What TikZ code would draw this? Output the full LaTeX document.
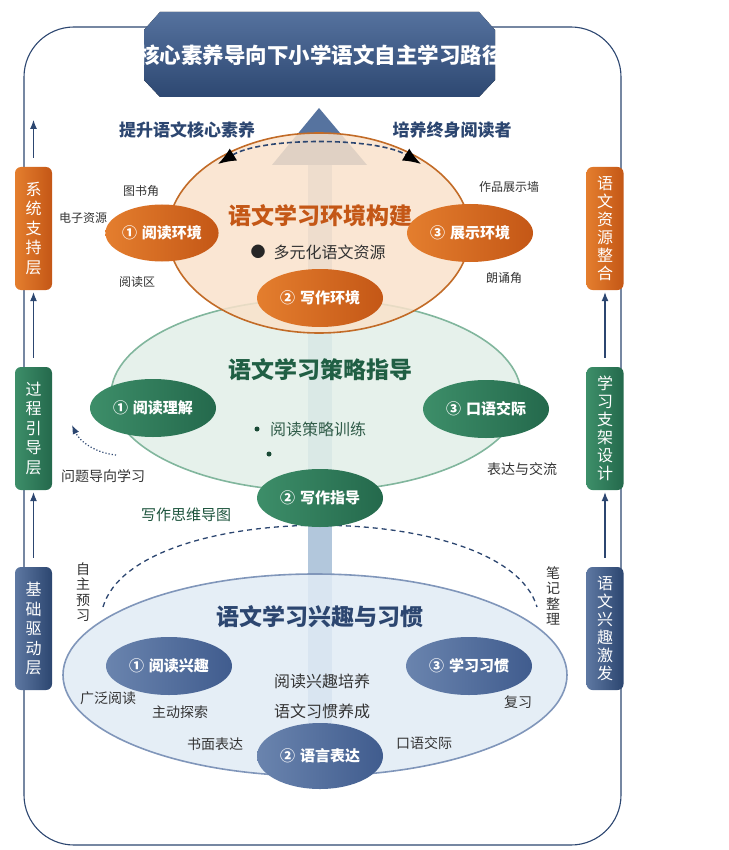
\documentclass[tikz,border=0pt]{standalone}
\usepackage{fontspec}
\setmainfont{Noto Sans CJK SC}
\usetikzlibrary{positioning, arrows.meta, shapes.geometric}

\definecolor{navy}{HTML}{2C4670}
\definecolor{orgA}{HTML}{E47E2E}
\definecolor{orgB}{HTML}{C45716}
\definecolor{grnA}{HTML}{3D8E69}
\definecolor{grnB}{HTML}{24694C}
\definecolor{bluA}{HTML}{6A84AE}
\definecolor{bluB}{HTML}{405C8E}
\definecolor{peach}{HTML}{F9E2CB}
\definecolor{mint}{HTML}{E2EFE8}
\definecolor{frost}{HTML}{E1EBF5}
\definecolor{shaft}{HTML}{B2C7DC}
\definecolor{headblue}{HTML}{56739F}

\newcommand{\num}[2]{#1\hspace{5pt}#2}

\begin{document}
\begin{tikzpicture}[x=1pt, y=-1pt,
  layerbar/.style={rounded corners=6pt, minimum width=37pt, minimum height=123pt,
                   inner sep=0pt, align=center, text=white,
                   font=\fontsize{16}{19.5}\selectfont},
  stage/.style={ellipse, inner sep=0pt, line width=1.6pt, fill opacity=0.85},
  part/.style={ellipse, inner sep=0pt, minimum width=126pt, minimum height=58pt,
               text=white, font=\fontsize{15}{18}\selectfont\bfseries},
  hd/.style={font=\fontsize{23}{26}\selectfont\bfseries},
  body/.style={font=\fontsize{16}{19}\selectfont, text=black!80},
  note/.style={font=\fontsize{12}{14}\selectfont, text=black!80},
  tag/.style={font=\fontsize{14}{16}\selectfont, text=black!80},
  vtag/.style={tag, align=center, font=\fontsize{14}{15.5}\selectfont},
  dot/.style={circle, fill=grnB!70!black, inner sep=0pt, minimum size=5pt},
  uparr/.style={-{Latex[length=9pt, width=7pt]}, line width=1.1pt, draw=navy},
]
\useasboundingbox (0,0) rectangle (728,850);

% outer frame
\draw[navy, line width=1.1pt, rounded corners=50pt] (24,27) rectangle (621,845);

% === Title banner ===
\begin{scope}
  \clip (144,30) -- (160,12) -- (479,12) -- (495,30) -- (495,80) -- (479,97)
        -- (160,97) -- (144,80) -- cycle;
  \fill[top color=headblue, bottom color=navy] (140,10) rectangle (500,100);
  \node[text=white, font=\fontsize{21.5}{24}\selectfont\bfseries] (title) at (321,55)
    {核心素养导向下小学语文自主学习路径};
\end{scope}

% === Side layers ===
\node[layerbar, left color=orgA, right color=orgB] (l1) at (33.5,228.5) {系\\统\\支\\持\\层};
\node[layerbar, left color=grnA, right color=grnB] (l2) at (33.5,428.5) {过\\程\\引\\导\\层};
\node[layerbar, left color=bluA!80!navy, right color=navy] (l3) at (33.5,628.5) {基\\础\\驱\\动\\层};

\node[layerbar, left color=orgA, right color=orgB, font=\fontsize{16}{18}\selectfont] (r1) at (605,228.5) {语\\文\\资\\源\\整\\合};
\node[layerbar, left color=grnA, right color=grnB, font=\fontsize{16}{18}\selectfont] (r2) at (605,428.5) {学\\习\\支\\架\\设\\计};
\node[layerbar, left color=bluA!80!navy, right color=navy, font=\fontsize{16}{18}\selectfont] (r3) at (605,628.5) {语\\文\\兴\\趣\\激\\发};

\coordinate (ltop) at (33.5,120);
\draw[uparr, shorten <=9pt] (l1.north) -- (ltop);
\draw[uparr, shorten <=9pt, shorten >=2pt] (l2.north) -- (l1.south);
\draw[uparr, shorten <=9pt, shorten >=2pt] (l3.north) -- (l2.south);
\draw[uparr, shorten <=9pt, shorten >=2pt] (r2.north) -- (r1.south);
\draw[uparr, shorten <=9pt, shorten >=2pt] (r3.north) -- (r2.south);

% === Central rising arrow ===
\fill[shaft] (308,165) rectangle (332,775);
\fill[headblue] (272,165) -- (319,108) -- (367,165) -- cycle;

% === Stage ellipses ===
\node[stage, fill=frost, draw=bluA!85!white, minimum width=504pt, minimum height=202pt] (base) at (315,675) {};
\node[stage, fill=mint, draw=grnA!65!white, minimum width=410pt, minimum height=192pt] (mid) at (316,395) {};
\node[stage, fill=peach, draw=orgA!85!black, minimum width=302pt, minimum height=200pt] (env) at (319,233) {};

% top goals
\node[font=\fontsize{17}{20}\selectfont\bfseries, text=navy] (goal1) at (187,130) {提升语文核心素养};
\node[font=\fontsize{17}{20}\selectfont\bfseries, text=navy] (goal2) at (452,130) {培养终身阅读者};
\coordinate (gl) at (218,164);
\coordinate (gr) at (421,164);
\draw[navy, line width=1.6pt, dash pattern=on 5pt off 3pt,
      {Latex[length=18pt, width=14pt, black]}-{Latex[length=18pt, width=14pt, black]}]
  (gl) .. controls (262,137) and (377,137) .. (gr);

% Environment stage
\node[hd, text=orgB] (envT) at (320,216) {语文学习环境构建};
\node[font=\fontsize{15}{18}\selectfont, text=black!85] (envDot) at (258,252) {●};
\node[body, right=1pt of envDot] (envRes) {多元化语文资源};

\node[part, left color=orgA, right color=orgB, minimum width=112pt, minimum height=57pt] (e1) at (162,233) {\num{①}{阅读环境}};
\node[part, left color=orgA, right color=orgB] (e2) at (320,298) {\num{②}{写作环境}};
\node[part, left color=orgA, right color=orgB] (e3) at (470,233) {\num{③}{展示环境}};

\node[note] (n1) at (141,191) {图书角};
\node[note] (n2) at (83,218) {电子资源};
\node[note] (n3) at (137,282) {阅读区};
\node[note] (n4) at (509,187) {作品展示墙};
\node[note] (n5) at (504,278) {朗诵角};

% Strategy stage
\node[hd, text=grnB!90!black] (midT) at (320,370) {语文学习策略指导};
\node[dot] (b1) at (257,429) {};
\node[body, text=grnB!70!black!90, right=7pt of b1] (b1t) {阅读策略训练};
\node[dot] (b2) at (269,454) {};

\node[part, left color=grnA, right color=grnB] (s1) at (153,408) {\num{①}{阅读理解}};
\node[part, left color=grnA, right color=grnB] (s3) at (486,409) {\num{③}{口语交际}};

\node[tag] (q1) at (103,476) {问题导向学习};
\node[tag] (q2) at (522,469) {表达与交流};
\node[tag, text=grnB!80!black, font=\fontsize{15}{18}\selectfont] (q3) at (186,515) {写作思维导图};

\coordinate (dq) at (116,455);
\coordinate (dp) at (72,425);
\draw[navy, dotted, line width=1.2pt, -{Latex[length=9pt, width=7pt]}]
  (dq) .. controls (96,453) and (80,442) .. (dp);

% dashed arc between strategy and interest
\coordinate (al) at (103,607);
\coordinate (ar) at (537,607);
\draw[navy, line width=1.3pt, dash pattern=on 5pt off 4pt]
  (al) .. controls (135,498) and (505,498) .. (ar);
\node[vtag] (v1) at (83,592) {自\\主\\预\\习};
\node[vtag] (v2) at (553,596) {笔\\记\\整\\理};

\node[part, left color=grnA, right color=grnB] (s2) at (320,498) {\num{②}{写作指导}};

% Interest stage
\node[hd, text=navy] (baseT) at (320,617) {语文学习兴趣与习惯};
\node[body] (h1) at (322,681) {阅读兴趣培养};
\node[body, below=8pt of h1] (h2) {语文习惯养成};

\node[part, left color=bluA, right color=bluB] (i1) at (169,666) {\num{①}{阅读兴趣}};
\node[part, left color=bluA, right color=bluB] (i3) at (469,666) {\num{③}{学习习惯}};
\node[part, left color=bluA, right color=bluB, minimum height=66pt] (i2) at (320,756) {\num{②}{语言表达}};

\node[tag] (t1) at (108,698) {广泛阅读};
\node[tag] (t2) at (180,712) {主动探索};
\node[tag] (t3) at (215,744) {书面表达};
\node[tag] (t4) at (424,743) {口语交际};
\node[tag] (t5) at (518,702) {复习};

\end{tikzpicture}
\end{document}
